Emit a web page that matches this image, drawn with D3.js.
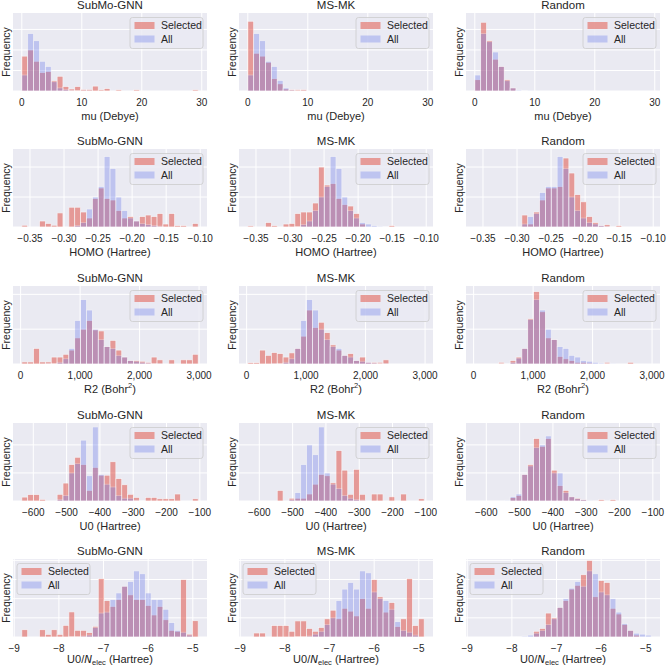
<!DOCTYPE html>
<html><head><meta charset="utf-8">
<script src="https://cdn.jsdelivr.net/npm/d3@7"></script>
<style>
body{margin:0;background:#fff;}
svg text{font-family:"Liberation Sans",Arial,Helvetica,sans-serif;fill:#262626;}
</style>
</head><body>
<svg id="c" width="668" height="667"></svg>
<script>
// ---------------- DATA ----------------
const methods = ["SubMo-GNN", "MS-MK", "Random"];
const legendLabels = ["Selected", "All"];

// Row 1: mu (Debye)  (30 equal bins over range)
const muRange = [0, 29.4];
const muTicks = [0, 10, 20, 30];
const muSelSubMo  = [1.7,2.0,1.45,0.9,0.95,0.5,0.72,0.22,0.1,0.22,0.08,0.08,0.24,0.06,0.12,0,0.06,0,0,0.06,0,0,0,0,0,0,0,0,0,0.06];
const muAllSubMo  = [0.78,2.8,2.45,1.45,1.2,0.45,0.15,0.08,0.04,0.02,0.01,0.01,0,0,0,0,0,0,0,0,0,0,0,0,0,0,0,0,0,0];
const muSelMSMK   = [3.4,1.84,1.7,1.4,0.6,0.35,0.1,0.07,0.07,0.07,0,0,0,0,0,0,0,0,0,0,0,0,0,0,0,0,0,0,0,0];
const muAllMSMK   = [0.78,2.8,2.45,1.45,1.2,0.52,0.15,0.05,0.02,0.01,0,0,0,0,0,0,0,0,0,0,0,0,0,0,0,0,0,0,0,0];
const muSelRandom = [0.55,3.35,2.45,1.55,1.2,0.55,0.15,0.02,0,0,0,0,0,0,0,0,0,0,0,0,0,0,0,0,0,0,0,0,0,0];
const muAllRandom = [0.78,2.8,2.4,1.9,1.2,0.5,0.15,0.05,0.02,0.01,0,0,0,0,0,0,0,0,0,0,0,0,0,0,0,0,0,0,0,0];

// Row 2: HOMO (Hartree)
const homoRange = [-0.362, -0.103];
const homoTicks = [-0.35, -0.30, -0.25, -0.20, -0.15, -0.10];
const homoSelSubMo  = [0.06,0,0,0.2,0.12,0.06,0.47,0,0.66,0.66,0.5,0.3,0.95,1.3,0.95,0.9,0.55,0.3,0.35,0.2,0.35,0.4,0.35,0.45,0.1,0.45,0.05,0.05,0,0.12];
const homoAllSubMo  = [0,0,0,0,0,0,0,0,0,0.05,0.15,0.6,1.0,1.35,2.35,1.95,1.0,0.55,0.3,0.2,0.12,0.08,0.05,0.03,0,0,0,0,0,0];
const homoSelMSMK   = [0.04,0,0,0.15,0.05,0,0.1,0.12,0.45,0.5,0.5,0.8,2.0,1.4,1.45,0.95,0.75,0.7,0.45,0.1,0,0,0,0,0.05,0,0,0,0,0];
const homoAllMSMK   = [0,0,0,0,0,0,0,0,0.02,0.08,0.2,0.55,1.0,1.35,2.35,1.95,1.0,0.55,0.3,0.15,0.1,0.05,0.03,0.02,0,0,0,0,0,0];
const homoSelRandom = [0,0,0,0,0,0,0,0,0.4,0.1,0.5,0.9,1.3,1.3,1.35,2.3,1.8,1.08,0.84,0.35,0.15,0.05,0.08,0,0.05,0,0,0,0,0];
const homoAllRandom = [0,0,0,0,0,0,0,0,0.1,0.35,0.45,1.15,1.35,1.35,2.35,1.95,1.0,0.55,0.3,0.15,0.1,0.05,0.03,0.02,0,0,0,0,0,0];

// Row 3: R2 (Bohr^2)
const r2Range = [20, 2985];
const r2Ticks = [0, 1000, 2000, 3000];
const r2SelSubMo  = [0.06,0.06,0.45,0.06,0.06,0.2,0.2,0.28,0.4,0.75,1.0,1.25,0.98,0.95,0.5,0.68,0.4,0.2,0.1,0.1,0.08,0.05,0.2,0.12,0,0.12,0,0.12,0.12,0.28];
const r2AllSubMo  = [0,0,0,0,0.01,0.02,0.05,0.15,0.45,1.25,1.85,1.55,1.0,0.7,0.5,0.45,0.25,0.2,0.1,0.08,0.05,0.03,0.02,0.01,0,0,0,0,0,0];
const r2SelMSMK   = [0.04,0.04,0.4,0.25,0.33,0.3,0.2,0.32,0.45,0.8,1.55,1.05,1.2,0.9,0.55,0.4,0.25,0.3,0.1,0.2,0.05,0.05,0.05,0.12,0,0,0,0,0,0];
const r2AllMSMK   = [0,0,0,0,0.01,0.02,0.05,0.15,0.45,1.25,1.85,1.55,1.0,0.7,0.5,0.45,0.25,0.2,0.1,0.08,0.05,0.03,0.02,0.01,0,0,0,0,0,0];
const r2SelRandom = [0,0,0,0,0.05,0,0.1,0.2,0.45,1.3,2.08,1.5,0.75,0.7,0.22,0.15,0.1,0.05,0.05,0.03,0,0,0.05,0,0,0,0.05,0,0,0];
const r2AllRandom = [0,0,0,0,0.02,0.02,0.05,0.17,0.45,1.28,1.85,1.55,1.0,0.7,0.5,0.45,0.25,0.2,0.1,0.08,0.05,0.03,0.02,0.01,0,0,0,0,0,0];

// Row 4: U0 (Hartree)
const u0Range = [-634.5, -105];
const u0Ticks = [-600, -500, -400, -300, -200, -100];
const u0SelSubMo  = [0.14,0.23,0.23,0.06,0,0,0.24,0.64,1.3,1.56,1.3,0.38,1.2,0.92,0.92,1.4,0.8,0.58,0.24,0.13,0,0.13,0.13,0.08,0.08,0.08,0.25,0,0,0.08];
const u0AllSubMo  = [0,0,0,0,0,0,0.06,0.2,1.0,1.33,2.17,0.9,2.64,0.95,0.6,0.5,0.2,0.1,0.1,0.03,0.02,0,0,0,0,0,0,0,0,0];
const u0SelMSMK   = [0,0,0,0,0,0.38,0,0.1,0.1,0.1,0.25,0.6,0.95,0.9,0.65,1.8,1.1,0.24,1.13,0.24,0,0.25,0.25,0,0.15,0,0.25,0,0,0.08];
const u0AllMSMK   = [0,0,0,0,0,0,0,0.05,0.3,1.3,2.0,1.65,2.64,1.0,0.6,0.45,0.2,0.1,0.05,0.03,0,0,0,0,0,0,0,0,0,0];
const u0SelRandom = [0,0,0,0,0,0,0.12,0.2,0.95,1.3,2.23,1.95,2.23,1.1,0.55,0.38,0.15,0.1,0.05,0,0,0.05,0,0.05,0,0,0,0,0,0];
const u0AllRandom = [0,0,0,0,0,0.03,0.15,0.25,0.95,1.25,1.9,2.0,2.32,1.0,1.0,0.3,0.15,0.08,0.05,0.03,0,0,0,0,0,0,0,0,0,0];

// Row 5: U0/N_elec (Hartree)
const u0nRange = [-8.83, -4.88];
const u0nTicks = [-9, -8, -7, -6, -5];
const u0nSelSubMo  = [0.38,0,0,0.38,0.14,0.38,0.14,0.61,1.31,0.35,0.35,0.23,0.56,3.05,1.9,1.6,1.95,2.65,2.2,1.95,1.95,1.65,1.15,1.6,0.9,0.35,0.3,3.0,0.15,0.85];
const u0nAllSubMo  = [0,0,0,0,0,0,0,0,0.02,0.03,0.05,0.1,0.5,1.25,1.3,1.95,2.3,2.65,2.9,3.45,3.3,2.3,1.95,1.95,1.45,0.75,0.35,0.25,0.1,0];
const u0nSelMSMK   = [0,0.21,0.21,0,0.6,0.6,0.6,0.3,0.84,0.84,0.45,0.3,0.5,0.95,1.4,0.95,1.5,1.35,1.1,2.0,1.5,3.0,2.1,1.3,1.8,0.55,0.95,3.05,0.6,0.95];
const u0nAllMSMK   = [0,0,0,0,0,0,0,0,0.02,0.03,0.05,0.15,0.3,0.65,1.0,1.9,2.5,2.85,2.5,3.45,3.35,2.35,2.0,1.9,1.45,0.8,0.35,0.25,0.1,0];
const u0nSelRandom = [0,0,0,0,0,0,0,0,0,0,0.3,0.45,1.25,1.0,1.55,1.9,2.5,2.7,3.25,4.0,2.1,2.95,2.85,1.5,1.2,0.65,0.35,0.1,0,0];
const u0nAllRandom = [0,0,0,0,0,0,0.02,0.03,0.05,0.1,0.2,0.35,0.65,0.95,1.55,2.0,2.55,2.9,2.65,3.45,3.3,2.35,2.2,2.0,1.3,0.7,0.35,0.2,0.15,0.1];

// y-axis extents (frequency units; gridline every 1) per row
const yMax = [3.8, 2.6, 2.24, 2.78, 4.07];

// ---------------- ASSEMBLY ----------------
const rows = [
  {range: muRange, ticks: muTicks, fmt: d3.format("d"), label: "mu",
   sel: [muSelSubMo, muSelMSMK, muSelRandom], all: [muAllSubMo, muAllMSMK, muAllRandom], legendLeft: false},
  {range: homoRange, ticks: homoTicks, fmt: d3.format(".2f"), label: "homo",
   sel: [homoSelSubMo, homoSelMSMK, homoSelRandom], all: [homoAllSubMo, homoAllMSMK, homoAllRandom], legendLeft: false},
  {range: r2Range, ticks: r2Ticks, fmt: d3.format(","), label: "r2",
   sel: [r2SelSubMo, r2SelMSMK, r2SelRandom], all: [r2AllSubMo, r2AllMSMK, r2AllRandom], legendLeft: false},
  {range: u0Range, ticks: u0Ticks, fmt: d3.format("d"), label: "u0",
   sel: [u0SelSubMo, u0SelMSMK, u0SelRandom], all: [u0AllSubMo, u0AllMSMK, u0AllRandom], legendLeft: false},
  {range: u0nRange, ticks: u0nTicks, fmt: d3.format("d"), label: "u0n",
   sel: [u0nSelSubMo, u0nSelMSMK, u0nSelRandom], all: [u0nAllSubMo, u0nAllMSMK, u0nAllRandom], legendLeft: true}
];

// ---------------- LAYOUT / STYLE ----------------
const colL = [13, 239, 466], PW = 194;
const rowT = [13, 149, 286, 423, 559], PH = 78;
const BG = "#EAEAF2";
const RED = "rgb(225,75,62)", RED_A = 0.5;
const BLUE = "rgb(110,125,235)", BLUE_A = 0.35;

const svg = d3.select("#c");

function xLabel(sel, key) {
  const t = sel.append("text").attr("text-anchor", "middle").attr("font-size", 11);
  if (key === "mu") t.text("mu (Debye)");
  else if (key === "homo") t.text("HOMO (Hartree)");
  else if (key === "u0") t.text("U0 (Hartree)");
  else if (key === "r2") {
    t.append("tspan").text("R2 (Bohr");
    t.append("tspan").attr("font-size", 7.5).attr("dy", -4.5).text("2");
    t.append("tspan").attr("dy", 4.5).text(")");
  } else if (key === "u0n") {
    t.append("tspan").text("U0/");
    t.append("tspan").attr("font-style", "italic").attr("font-family", "DejaVu Sans, sans-serif").attr("font-size", 10.5).text("N");
    t.append("tspan").attr("font-size", 7.5).attr("font-style", "normal").attr("dy", 2).text("elec");
    t.append("tspan").attr("dy", -2).text(" (Hartree)");
  }
  return t;
}

rows.forEach((row, r) => {
  const [lo, hi] = row.range;
  const nb = row.sel[0].length;
  const bw = (hi - lo) / nb;
  const pad = (hi - lo) * 0.05;
  const T = rowT[r], B = T + PH;
  const yTicks = d3.range(0, Math.floor(yMax[r]) + 1);

  methods.forEach((m, c) => {
    const L = colL[c], R = L + PW;
    const x = d3.scaleLinear().domain([lo - pad, hi + pad]).range([L, R]);
    const y = d3.scaleLinear().domain([0, yMax[r]]).range([B, T]);
    const g = svg.append("g");

    g.append("rect").attr("x", L).attr("y", T).attr("width", PW).attr("height", PH).attr("fill", BG);

    // grid
    g.selectAll(".vg").data(row.ticks).enter().append("line")
      .attr("x1", d => x(d)).attr("x2", d => x(d)).attr("y1", T).attr("y2", B)
      .attr("stroke", "#fff").attr("stroke-width", 1);
    g.selectAll(".hg").data(yTicks).enter().append("line")
      .attr("x1", L).attr("x2", R).attr("y1", d => y(d)).attr("y2", d => y(d))
      .attr("stroke", "#fff").attr("stroke-width", 1);

    // bars: Selected first, All on top
    [[row.sel[c], RED, RED_A], [row.all[c], BLUE, BLUE_A]].forEach(([vals, color, alpha]) => {
      const bg = g.append("g");
      vals.forEach((v, i) => {
        if (v <= 0) return;
        const x0 = x(lo + i * bw), x1 = x(lo + (i + 1) * bw);
        bg.append("rect")
          .attr("x", x0).attr("width", x1 - x0)
          .attr("y", y(v)).attr("height", y(0) - y(v))
          .attr("fill", color).attr("stroke", "#fff").attr("stroke-width", 0.7)
          .attr("opacity", alpha);
      });
    });

    // legend
    const lw = 73, lh = 31;
    const lx = row.legendLeft ? L + 4 : R - 4 - lw;
    const ly = T + 4.5;
    const lg = g.append("g");
    lg.append("rect").attr("x", lx).attr("y", ly).attr("width", lw).attr("height", lh)
      .attr("rx", 2.5).attr("fill", BG).attr("fill-opacity", 0.8)
      .attr("stroke", "#cccccc").attr("stroke-width", 0.8);
    [[RED, RED_A], [BLUE, BLUE_A]].forEach(([col, a], k) => {
      const cy = ly + 8 + k * 13.5;
      lg.append("rect").attr("x", lx + 4.5).attr("y", cy - 3.5).attr("width", 20).attr("height", 7)
        .attr("fill", col).attr("opacity", a);
      lg.append("text").attr("x", lx + 31).attr("y", cy).attr("dy", "0.36em")
        .attr("font-size", 10.5).text(legendLabels[k]);
    });

    // title
    g.append("text").attr("x", (L + R) / 2).attr("y", T - 4.5).attr("text-anchor", "middle")
      .attr("font-size", 11.5).text(m);
    // x tick labels
    g.selectAll(".xt").data(row.ticks).enter().append("text")
      .attr("x", d => x(d)).attr("y", B + 14.5).attr("text-anchor", "middle")
      .attr("font-size", 10).text(d => row.fmt(d));
    // x label
    xLabel(g, row.label).attr("x", (L + R) / 2).attr("y", B + (r === 4 ? 25.5 : 28.5));
    // y label
    g.append("text").attr("transform", `translate(${L - 3.5},${(T + B) / 2}) rotate(-90)`)
      .attr("text-anchor", "middle").attr("font-size", 10.5).text("Frequency");
  });
});
</script>
</body></html>
